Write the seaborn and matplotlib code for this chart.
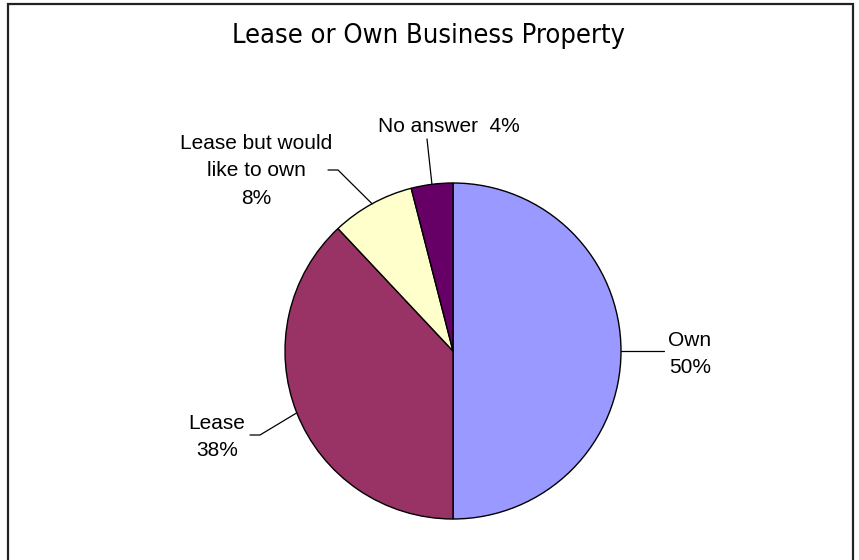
import numpy as np
import matplotlib
matplotlib.use("Agg")
import matplotlib.pyplot as plt
from matplotlib.patches import Rectangle
import seaborn as sns

# Survey answers and their shares (percent)
categories = ["Own", "Lease", "Lease but would\nlike to own", "No answer"]
shares = [50, 38, 8, 4]
slice_colors = ["#9999FF", "#993366", "#FFFFCC", "#660066"]
title_text = "Lease or Own Business Property"

sns.set_theme(style="white")
plt.rcParams["font.family"] = ["Liberation Sans", "DejaVu Sans"]
palette = sns.color_palette(slice_colors)

W, H = 859, 560
fig = plt.figure(figsize=(W / 100, H / 100), dpi=100)
fig.patch.set_facecolor("white")

# Axes in pixel units (y up) so the pie sits where wanted
ax = fig.add_axes([0, 0, 1, 1])
ax.set_xlim(0, W)
ax.set_ylim(0, H)
ax.set_aspect("equal")
ax.axis("off")

cx, cy, r = 453, H - 351, 168
wedges, _ = ax.pie(shares, colors=palette, startangle=90, counterclock=False,
                   center=(cx, cy), radius=r, frame=True,
                   wedgeprops=dict(edgecolor="black", linewidth=1.0))
ax.set_xlim(0, W)
ax.set_ylim(0, H)
ax.axis("off")

# Label placement: text centre (pixels, y down) and leader elbow points
label_pos = {
    "Own": (690, 354),
    "Lease": (217, 437),
    "Lease but would\nlike to own": (256, 171),
    "No answer": (449, 127),
}
elbows = {
    "Own": [(664, 351)],
    "Lease": [(260, 435), (250, 435)],
    "Lease but would\nlike to own": [(338, 170), (328, 170)],
    "No answer": [(427, 139)],
}

for w, cat, val in zip(wedges, categories, shares):
    mid = np.deg2rad((w.theta1 + w.theta2) / 2)
    ex = cx + r * np.cos(mid)
    ey = cy + r * np.sin(mid)
    pts = [(ex, ey)] + [(px, H - py) for px, py in elbows[cat]]
    xs, ys = zip(*pts)
    ax.plot(xs, ys, color="black", lw=0.9)
    tx, ty = label_pos[cat]
    if cat == "No answer":
        txt = f"{cat}  {val}%"
    else:
        txt = f"{cat}\n{val}%"
    ax.text(tx, H - ty, txt, ha="center", va="center", fontsize=15,
            color="black", linespacing=1.55)

# Title
fig.text(429 / W, 1 - 36 / H, title_text, ha="center", va="center",
         fontsize=19.5, family="DejaVu Sans", fontstretch="condensed",
         color="black")

# Chart area border
fig.patches.append(Rectangle((8 / W, -0.05), (853 - 8) / W, 1.05 - 4 / H,
                             transform=fig.transFigure, fill=False,
                             edgecolor="#222222", linewidth=1.6))

fig.savefig("out.png", dpi=100, facecolor="white")
